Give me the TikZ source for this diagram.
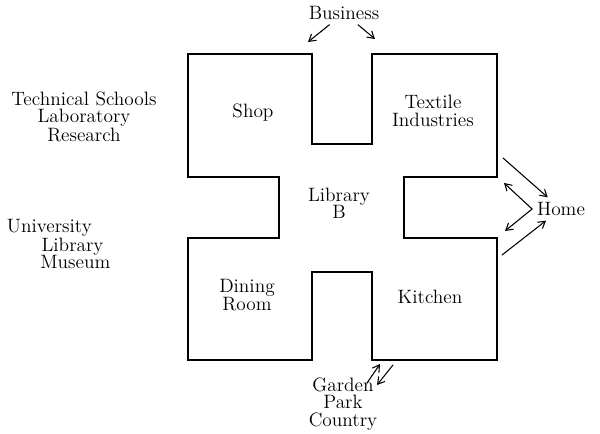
\documentclass[tikz,border=0pt]{standalone}
\usepackage{tikz}
\usetikzlibrary{arrows.meta}
\begin{document}
\begin{tikzpicture}[x=0.75pt,y=-0.75pt,line width=0.8pt,cap=round,
  >={Straight Barb[length=5pt,width=6pt]},
  every node/.style={font=\fontsize{14.5}{13}\selectfont,align=center}]
\useasboundingbox (0,0) rectangle (600,434);
% the house
\draw[line width=1.3pt,cap=butt] (188,54)--(312,54)--(312,144)--(372,144)--(372,54)--(497,54)--(497,177)--(404,177)
  --(404,238)--(497,238)--(497,360)--(372,360)--(372,272)--(312,272)--(312,360)--(188,360)--(188,238)--(279,238)
  --(279,177)--(188,177)--cycle;
% rooms
\node (shop) at (253,113) {Shop};
\node (textile) at (433,111) {Textile\\Industries};
\node (library) at (339,203) {Library\\B};
\node (dining) at (247,295) {Dining\\Room};
\node (kitchen) at (430,297) {Kitchen};
% outside
\node (tech) at (84,117) {Technical Schools\\Laboratory\\Research};
\node[anchor=west,align=left] (univ) at (2,244) {University\\\hspace{26pt}Library\\\hspace{25pt}Museum};
\node (business) at (344,13) {Business};
\node (home) at (561,209) {Home};
\node (garden) at (343,404) {Garden\\Park\\Country};
% doors
\coordinate (bl) at (308,42);
\coordinate (br) at (375,39);
\coordinate (h1) at (503,158);
\coordinate (h2) at (504,183);
\coordinate (h3) at (505,231);
\coordinate (h4) at (502,255);
\coordinate (g1) at (367,383);
\coordinate (g2) at (380,364);
\coordinate (g3) at (393,365);
\coordinate (g4) at (377,385);
\draw[->] (business)--(bl);
\draw[->] (business)--(br);
\draw[->] (h1)--(home);
\draw[->] (home.west)--(h2);
\draw[->] (home.west)--(h3);
\draw[->] (h4)--(home);
\draw[->] (g1)--(g2);
\draw[->] (g3)--(g4);
\end{tikzpicture}
\end{document}
